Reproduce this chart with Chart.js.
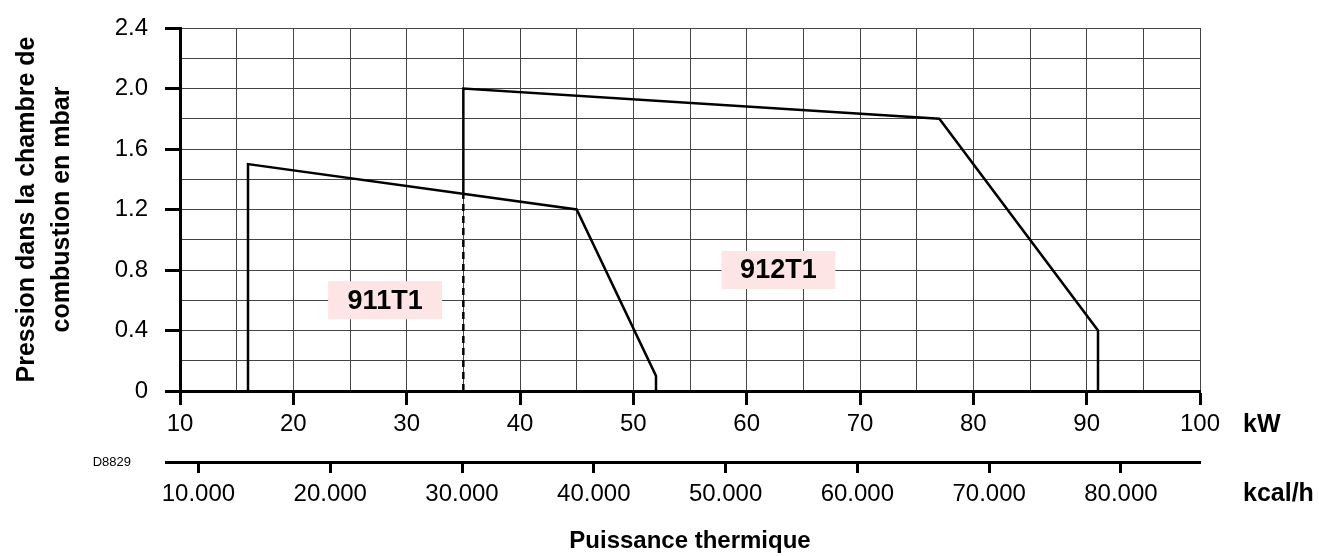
<!DOCTYPE html>
<html>
<head>
<meta charset="utf-8">
<script src="https://cdn.jsdelivr.net/npm/chart.js@4/dist/chart.umd.min.js"></script>
<style>
  html, body { margin: 0; padding: 0; background: #fff; }
  #wrap { width: 1319px; height: 556px; position: relative; }
</style>
</head>
<body>
<div id="wrap"><canvas id="chart"></canvas></div>
<script>
// axis ticks
const kwTicks = [10, 20, 30, 40, 50, 60, 70, 80, 90, 100];
const kcalTicks = [10000, 20000, 30000, 40000, 50000, 60000, 70000, 80000];
const kcalLabels = ['10.000', '20.000', '30.000', '40.000', '50.000', '60.000', '70.000', '80.000'];
const yTicks = [0, 0.4, 0.8, 1.2, 1.6, 2.0, 2.4];
const yLabels = ['0', '0.4', '0.8', '1.2', '1.6', '2.0', '2.4'];

// working fields (kW / mbar)
const kw911 = [16, 16, 45, 52, 52];
const mbar911 = [0, 1.5, 1.2, 0.1, 0];
const kw912 = [35, 35, 77, 91, 91];
const mbar912 = [1.3, 2.0, 1.8, 0.4, 0];
const kw912dash = [35, 35];
const mbar912dash = [0, 1.3];

// model names written inside the fields
const tagNames = ['911T1', '912T1'];
const tagKw = [28.1, 62.8];
const tagMbar = [0.6, 0.8];

const KCAL_PER_KW = 860;
const tickFont = { family: '"Liberation Sans Narrow", "Liberation Sans", Arial, sans-serif', size: 24 };
const boldFont = '"Liberation Sans", Arial, sans-serif';

function pts(xs, ys) {
  return xs.map((x, i) => ({ x: x, y: ys[i] }));
}
function near(arr, v) {
  return arr.findIndex(a => Math.abs(a - v) < 1e-6);
}

const extras = {
  id: 'extras',
  afterDatasetsDraw(chart) {
    const { ctx, scales } = chart;
    ctx.save();
    ctx.font = 'bold 27px ' + boldFont;
    ctx.textAlign = 'center';
    ctx.textBaseline = 'middle';
    tagNames.forEach((name, i) => {
      const px = scales.x.getPixelForValue(tagKw[i]);
      const py = scales.y.getPixelForValue(tagMbar[i]);
      ctx.fillStyle = '#fde5e6';
      ctx.fillRect(px - 57, py - 19, 114, 38);
      ctx.fillStyle = '#000';
      ctx.fillText(name, px, py + 1);
    });
    ctx.restore();
  },
  afterDraw(chart) {
    const { ctx, chartArea, scales } = chart;
    const xs = scales.x, x2 = scales.x2;
    ctx.save();
    // kcal axis line runs a bit past the y axis, like the kW one
    ctx.strokeStyle = '#000';
    ctx.lineWidth = 3;
    ctx.beginPath();
    ctx.moveTo(chartArea.left - 15, x2.top + 0.5);
    ctx.lineTo(chartArea.left, x2.top + 0.5);
    ctx.stroke();

    ctx.fillStyle = '#000';
    ctx.font = 'bold 25px ' + boldFont;
    ctx.textAlign = 'left';
    ctx.textBaseline = 'middle';
    ctx.fillText('kW', chartArea.right + 43, xs.top + 34);
    ctx.fillText('kcal/h', chartArea.right + 43, x2.top + 32);

    ctx.font = '13px ' + boldFont;
    ctx.textAlign = 'right';
    ctx.fillText('D8829', 131, x2.top);
    ctx.restore();
  }
};

const lineStyle = { borderColor: '#000', borderWidth: 2.5, pointRadius: 0, showLine: true, fill: false, tension: 0 };

new Chart(document.getElementById('chart'), {
  type: 'scatter',
  data: {
    datasets: [
      Object.assign({ label: '911T1', data: pts(kw911, mbar911) }, lineStyle),
      Object.assign({ label: '912T1', data: pts(kw912, mbar912) }, lineStyle),
      Object.assign({ label: '912T1 limit', data: pts(kw912dash, mbar912dash), borderDash: [7, 5] }, lineStyle)
    ]
  },
  options: {
    responsive: true,
    maintainAspectRatio: false,
    animation: false,
    layout: { padding: { left: 0, right: 119, top: 28, bottom: 0 } },
    plugins: { legend: { display: false }, tooltip: { enabled: false } },
    scales: {
      x: {
        type: 'linear',
        position: 'bottom',
        min: 10,
        max: 100,
        ticks: {
          stepSize: 5,
          autoSkip: false,
          maxRotation: 0,
          padding: 5,
          color: '#000',
          font: tickFont,
          callback: v => near(kwTicks, v) >= 0 ? String(v) : ''
        },
        grid: {
          color: '#444',
          lineWidth: 1,
          tickLength: 14,
          tickWidth: 3,
          tickColor: c => (c.tick && near(kwTicks, c.tick.value) >= 0) ? '#000' : 'rgba(0,0,0,0)'
        },
        border: { display: true, color: '#000', width: 3 },
        afterFit: s => { s.height = 71; s.paddingLeft = 0; s.paddingRight = 0; }
      },
      x2: {
        type: 'linear',
        position: 'bottom',
        min: 10 * KCAL_PER_KW,
        max: 100 * KCAL_PER_KW,
        afterBuildTicks: s => { s.ticks = kcalTicks.map(v => ({ value: v })); },
        ticks: {
          autoSkip: false,
          maxRotation: 0,
          padding: 7,
          color: '#000',
          font: tickFont,
          callback: v => {
            const i = near(kcalTicks, v);
            return i >= 0 ? kcalLabels[i] : '';
          }
        },
        grid: { drawOnChartArea: false, tickLength: 11, tickWidth: 3, tickColor: '#000' },
        border: { display: true, color: '#000', width: 3 },
        title: {
          display: true,
          text: 'Puissance thermique',
          color: '#000',
          font: { family: boldFont, size: 24, weight: 'bold' },
          padding: { top: 0, bottom: 0 }
        },
        afterFit: s => { s.height = 94; s.paddingLeft = 0; s.paddingRight = 0; }
      },
      y: {
        type: 'linear',
        min: 0,
        max: 2.4,
        ticks: {
          stepSize: 0.2,
          autoSkip: false,
          padding: 17,
          color: '#000',
          font: tickFont,
          callback: v => {
            const i = near(yTicks, v);
            return i >= 0 ? yLabels[i] : '';
          }
        },
        grid: {
          color: '#444',
          lineWidth: 1,
          tickLength: 15,
          tickWidth: 3,
          tickColor: c => (c.tick && near(yTicks, c.tick.value) >= 0) ? '#000' : 'rgba(0,0,0,0)'
        },
        border: { display: true, color: '#000', width: 3 },
        title: {
          display: true,
          text: ['Pression dans la chambre de', 'combustion en mbar'],
          color: '#000',
          font: { family: boldFont, size: 25, weight: 'bold', lineHeight: 1.4 },
          padding: { top: 10, bottom: 0 }
        },
        afterFit: s => { s.width = 180; s.paddingTop = 0; s.paddingBottom = 0; }
      }
    }
  },
  plugins: [extras]
});
</script>
</body>
</html>
